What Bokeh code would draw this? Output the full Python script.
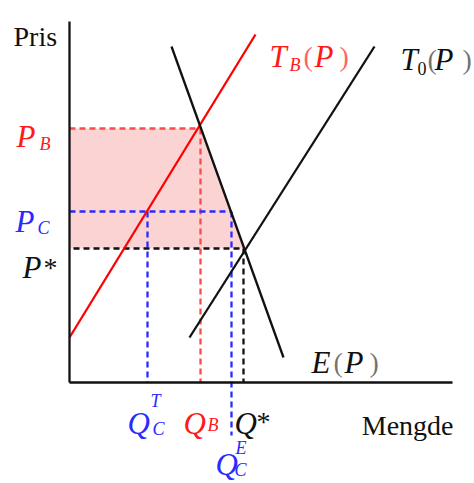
from bokeh.plotting import figure
from bokeh.models import Range1d
from bokeh.embed import file_html
from bokeh.resources import INLINE
from bokeh.core.properties import value

# ---- data (quantity Q, price P) ----
tb_q = [0.0, 18.6]          # T_B(P) supply
tb_p = [4.5, 34.8]
t0_q = [12.0, 30.5]         # T_0(P) supply
t0_p = [4.5, 33.6]
e_q = [10.2, 21.4]          # E(P) demand
e_p = [33.6, 2.5]

P_B = 25.4
P_C = 17.1
P_STAR = 13.4
Q_CT = 7.8
Q_B = 13.1
Q_CE = 16.2
Q_STAR = 17.4
Q_EQ = 17.5
Q_CE_LOW = -5.3
Q_AXIS_END = 38.3
P_AXIS_END = 36.1

U = 10.0  # pixels per data unit

RED = "#ff1a1a"
RED_DASH = "#ff4a4a"
BLUE = "#2a2aff"
BLACK = "#111111"
FILL = "#fcd3d3"
FONT = value("Liberation Serif")

p = figure(width=474, height=483, output_backend="svg", toolbar_location=None,
           x_axis_type=None, y_axis_type=None, min_border=0,
           x_range=Range1d(-6.9, 40.5), y_range=Range1d(-10.1, 38.2))
p.outline_line_color = None
p.background_fill_color = "white"

# shaded area
p.patch([0, Q_B, Q_EQ, 0], [P_B, P_B, P_STAR, P_STAR], fill_color=FILL, line_color=None)

# dashed guide lines
dash = "6 4"
LW = 2.3
p.line([0, Q_B], [P_B, P_B], line_color=RED_DASH, line_width=LW, line_dash=dash)
p.line([Q_B, Q_B], [P_B, 0], line_color=RED_DASH, line_width=LW, line_dash=dash)
p.line([0, Q_CE], [P_C, P_C], line_color=BLUE, line_width=LW, line_dash=dash)
p.line([Q_CT, Q_CT], [P_C, 0], line_color=BLUE, line_width=LW, line_dash=dash)
p.line([Q_CE, Q_CE], [P_C, Q_CE_LOW], line_color=BLUE, line_width=LW, line_dash=dash)
p.line([0.4, Q_STAR], [P_STAR, P_STAR], line_color=BLACK, line_width=LW, line_dash=dash)
p.line([Q_STAR, Q_STAR], [P_STAR, 0], line_color=BLACK, line_width=LW, line_dash=dash)

# curves
p.line(tb_q, tb_p, line_color="#ff0000", line_width=2.3)
p.line(t0_q, t0_p, line_color=BLACK, line_width=2.3)
p.line(e_q, e_p, line_color=BLACK, line_width=2.3)

# axes
p.line([0, 0], [0, P_AXIS_END], line_color=BLACK, line_width=2.3)
p.line([0, Q_AXIS_END], [0, 0], line_color=BLACK, line_width=2.3)

MAIN = "31px"
PLAIN = "28px"
SUB = "18px"


def lab(txt, ax, ay, dx, dy, color, size=MAIN, style="italic", align="left", alpha=1.0):
    p.text(x=[ax + dx / U], y=[ay - dy / U], text=[txt], text_font=FONT,
           text_font_size=size, text_font_style=style, text_color=color,
           text_align=align, text_baseline="alphabetic", text_alpha=alpha)


# axis titles
lab("Pris", 0, P_AXIS_END, -56, 15, BLACK, size=PLAIN, style="normal")
lab("Mengde", Q_AXIS_END, 0, 1, 43, BLACK, size=PLAIN, style="normal", align="right")

# price labels
lab("P", 0, P_B, -53, 8, RED)
lab("B", 0, P_B, -30, 15, RED, size=SUB)
lab("P", 0, P_C, -54, 10, BLUE)
lab("C", 0, P_C, -32, 16, BLUE, size=SUB)
lab("P", 0, P_STAR, -47, 19, BLACK)
lab("*", 0, P_STAR, -26, 19, BLACK, size=PLAIN, style="normal")

# quantity labels
lab("Q", Q_CT, 0, -20, 41, BLUE)
lab("T", Q_CT, 0, 3, 18, BLUE, size=SUB)
lab("C", Q_CT, 0, 5, 46, BLUE, size=SUB)
lab("Q", Q_B, 0, -17, 41, RED)
lab("B", Q_B, 0, 7, 42, RED, size=SUB)
lab("Q", Q_STAR, 0, -9, 41, BLACK)
lab("*", Q_STAR, 0, 13, 39, BLACK, size=PLAIN, style="normal")
lab("Q", Q_CE, 0, -16, 82, BLUE)
lab("E", Q_CE, 0, 4, 65, BLUE, size=SUB)
lab("C", Q_CE, 0, 3, 87, BLUE, size=SUB)

# curve labels
lab("T", tb_q[1], tb_p[1], 14, 22, RED)
lab("B", tb_q[1], tb_p[1], 34, 30, RED, size=SUB)
lab("(", tb_q[1], tb_p[1], 48, 22, RED, size=PLAIN, style="normal", alpha=0.7)
lab("P", tb_q[1], tb_p[1], 59, 22, RED)
lab(")", tb_q[1], tb_p[1], 84, 22, RED, size=PLAIN, style="normal", alpha=0.7)

lab("T", t0_q[1], t0_p[1], 26, 13, BLACK)
lab("0", t0_q[1], t0_p[1], 43, 22, BLACK, size=SUB, style="normal")
lab("(", t0_q[1], t0_p[1], 53, 13, BLACK, size=PLAIN, style="normal", alpha=0.6)
lab("P", t0_q[1], t0_p[1], 60, 13, BLACK)
lab(")", t0_q[1], t0_p[1], 88, 13, BLACK, size=PLAIN, style="normal", alpha=0.6)

lab("E", e_q[1], e_p[1], 28, 5, BLACK)
lab("(", e_q[1], e_p[1], 50, 5, BLACK, size=PLAIN, style="normal", alpha=0.6)
lab("P", e_q[1], e_p[1], 61, 5, BLACK)
lab(")", e_q[1], e_p[1], 86, 5, BLACK, size=PLAIN, style="normal", alpha=0.6)

open("out.html", "w").write(file_html(p, INLINE))
